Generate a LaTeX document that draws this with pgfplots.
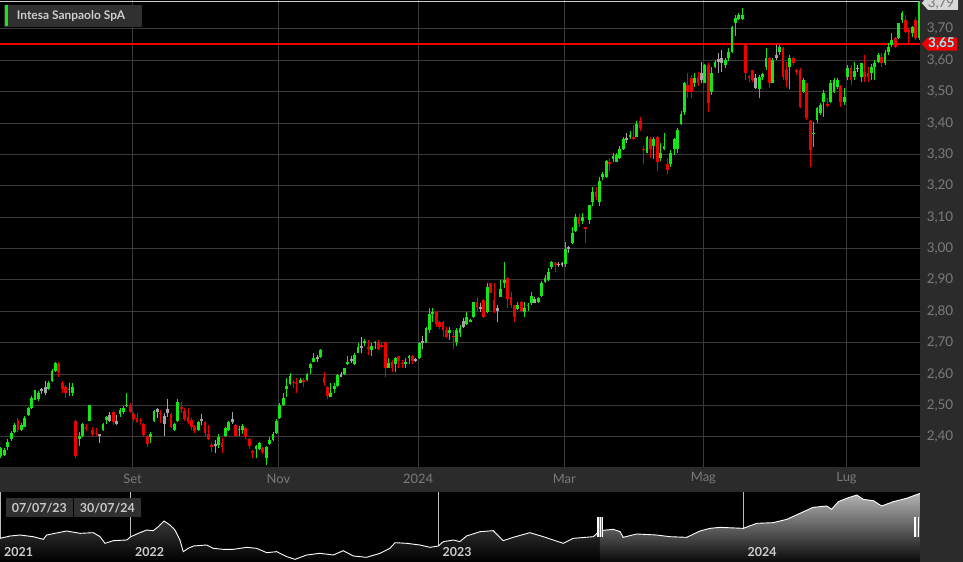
\documentclass[border=0pt]{standalone}
\usepackage{fontspec}
\setmainfont{Lato}
\usepackage{pgfplots}
\usepackage{pgfplotstable}
\pgfplotsset{compat=1.18}
\definecolor{panel}{RGB}{43,43,43}
\definecolor{gridc}{RGB}{58,58,58}
\definecolor{tickc}{RGB}{122,122,122}
\definecolor{cgreen}{RGB}{20,232,20}
\definecolor{cred}{RGB}{238,0,0}
\definecolor{cgray}{RGB}{165,165,165}
\definecolor{legbg}{RGB}{48,48,48}
\definecolor{legtext}{RGB}{205,205,205}
\definecolor{lblcyan}{RGB}{140,245,255}
\definecolor{lastline}{RGB}{205,205,205}
\definecolor{navgrid}{RGB}{190,190,190}
\definecolor{navfillA}{RGB}{55,55,55}
\definecolor{navfillB}{RGB}{180,180,180}
\definecolor{navfillBb}{RGB}{10,10,10}
\definecolor{navtext}{RGB}{205,205,205}
\definecolor{datebg}{RGB}{48,48,48}
\definecolor{datetext}{RGB}{200,200,200}
\definecolor{handleline}{RGB}{120,120,120}
\definecolor{lastbg}{RGB}{215,215,215}
\definecolor{lasttext}{RGB}{120,120,120}

% x = trading day index (0 = 07/07/23), open high low close, k: 1 up, -1 down, 0 unchanged
\pgfplotstableread{
x o h l c k
0 2.339 2.368 2.332 2.363 1
1 2.342 2.365 2.338 2.358 1
2 2.369 2.392 2.358 2.385 1
3 2.392 2.418 2.388 2.411 1
4 2.417 2.445 2.412 2.438 1
5 2.454 2.459 2.417 2.422 -1
6 2.422 2.445 2.418 2.438 1
7 2.433 2.466 2.430 2.459 1
8 2.470 2.495 2.466 2.491 1
9 2.491 2.530 2.488 2.523 1
10 2.523 2.549 2.518 2.530 1
11 2.520 2.545 2.515 2.539 1
12 2.545 2.555 2.538 2.551 0
13 2.539 2.579 2.533 2.560 0
14 2.552 2.578 2.548 2.573 1
15 2.579 2.615 2.575 2.610 1
16 2.611 2.640 2.608 2.634 1
17 2.632 2.640 2.592 2.608 -1
18 2.573 2.579 2.539 2.552 -1
19 2.560 2.565 2.523 2.539 -1
20 2.550 2.571 2.530 2.553 1
21 2.539 2.571 2.530 2.560 1
22 2.451 2.455 2.332 2.339 -1
23 2.392 2.417 2.371 2.403 1
24 2.403 2.445 2.398 2.440 1
25 2.431 2.440 2.420 2.428 -1
26 2.451 2.503 2.449 2.501 1
27 2.422 2.433 2.403 2.409 -1
28 2.413 2.427 2.403 2.410 -1
29 2.409 2.410 2.379 2.403 0
30 2.422 2.444 2.418 2.440 1
31 2.454 2.467 2.441 2.462 1
32 2.452 2.480 2.448 2.470 0
33 2.480 2.484 2.438 2.448 -1
34 2.452 2.470 2.438 2.441 0
35 2.473 2.491 2.462 2.486 1
36 2.479 2.498 2.473 2.491 1
37 2.498 2.539 2.496 2.502 1
38 2.498 2.507 2.475 2.480 -1
39 2.472 2.478 2.452 2.456 -1
40 2.459 2.475 2.444 2.448 -1
41 2.455 2.461 2.438 2.452 -1
42 2.440 2.443 2.401 2.405 -1
43 2.403 2.406 2.369 2.377 -1
44 2.401 2.417 2.379 2.410 1
45 2.451 2.486 2.448 2.482 1
46 2.478 2.491 2.460 2.489 0
47 2.477 2.486 2.445 2.474 -1
48 2.466 2.475 2.403 2.440 0
49 2.475 2.520 2.462 2.490 0
50 2.472 2.476 2.427 2.430 -1
51 2.422 2.444 2.418 2.440 1
52 2.452 2.520 2.448 2.512 1
53 2.496 2.512 2.475 2.488 -1
54 2.482 2.492 2.452 2.458 -1
55 2.462 2.491 2.440 2.448 -1
56 2.454 2.459 2.422 2.432 -1
57 2.432 2.438 2.411 2.420 -1
58 2.422 2.452 2.419 2.448 1
59 2.451 2.472 2.438 2.457 0
60 2.448 2.451 2.403 2.411 -1
61 2.409 2.438 2.390 2.392 -1
62 2.374 2.379 2.351 2.369 -1
63 2.375 2.390 2.350 2.373 0
64 2.374 2.408 2.363 2.401 1
65 2.379 2.395 2.350 2.369 -1
66 2.403 2.430 2.400 2.427 1
67 2.422 2.452 2.418 2.448 1
68 2.448 2.480 2.441 2.456 0
69 2.438 2.441 2.401 2.403 -1
70 2.422 2.435 2.403 2.425 1
71 2.422 2.440 2.409 2.435 1
72 2.429 2.432 2.392 2.401 -1
73 2.392 2.398 2.361 2.371 -1
74 2.354 2.358 2.332 2.352 -1
75 2.360 2.374 2.332 2.370 1
76 2.362 2.384 2.358 2.379 1
77 2.363 2.369 2.345 2.353 -1
78 2.332 2.371 2.310 2.369 1
79 2.377 2.401 2.374 2.390 1
80 2.390 2.414 2.386 2.410 1
81 2.411 2.456 2.409 2.451 1
82 2.459 2.509 2.456 2.502 1
83 2.502 2.539 2.498 2.523 1
84 2.552 2.589 2.528 2.562 1
85 2.569 2.605 2.565 2.595 1
86 2.576 2.581 2.555 2.571 -1
87 2.572 2.587 2.539 2.569 -1
88 2.573 2.589 2.571 2.581 1
89 2.581 2.587 2.560 2.576 -1
90 2.581 2.603 2.578 2.599 1
91 2.618 2.634 2.600 2.631 1
92 2.640 2.668 2.638 2.650 1
93 2.647 2.661 2.640 2.654 0
94 2.656 2.679 2.650 2.677 1
95 2.590 2.608 2.562 2.571 -1
96 2.560 2.562 2.520 2.530 -1
97 2.528 2.571 2.526 2.539 1
98 2.552 2.571 2.539 2.562 1
99 2.562 2.600 2.560 2.597 1
100 2.592 2.608 2.590 2.600 0
101 2.600 2.620 2.598 2.618 1
102 2.632 2.658 2.629 2.640 1
103 2.642 2.658 2.634 2.648 0
104 2.631 2.668 2.629 2.661 1
105 2.668 2.698 2.666 2.688 1
106 2.686 2.719 2.668 2.689 0
107 2.702 2.711 2.690 2.705 1
108 2.688 2.709 2.661 2.680 -1
109 2.677 2.698 2.658 2.690 1
110 2.700 2.705 2.680 2.703 1
111 2.701 2.709 2.677 2.679 -1
112 2.692 2.698 2.682 2.690 -1
113 2.701 2.703 2.590 2.618 -1
114 2.621 2.650 2.618 2.634 1
115 2.640 2.645 2.608 2.618 -1
116 2.631 2.656 2.608 2.650 1
117 2.659 2.659 2.618 2.642 -1
118 2.636 2.645 2.618 2.634 -1
119 2.634 2.650 2.618 2.640 1
120 2.650 2.661 2.632 2.659 1
121 2.659 2.660 2.632 2.642 -1
122 2.644 2.650 2.640 2.646 0
123 2.650 2.702 2.648 2.700 1
124 2.700 2.721 2.679 2.705 0
125 2.700 2.751 2.698 2.748 1
126 2.741 2.810 2.730 2.791 1
127 2.791 2.810 2.767 2.799 1
128 2.799 2.802 2.751 2.759 -1
129 2.767 2.770 2.745 2.751 -1
130 2.767 2.769 2.719 2.741 -1
131 2.741 2.749 2.716 2.719 -1
132 2.730 2.749 2.709 2.741 1
133 2.722 2.741 2.680 2.719 -1
134 2.703 2.746 2.690 2.741 1
135 2.730 2.757 2.719 2.746 1
136 2.749 2.778 2.746 2.769 0
137 2.760 2.799 2.757 2.781 1
138 2.769 2.776 2.766 2.772 1
139 2.781 2.831 2.779 2.829 1
140 2.829 2.847 2.802 2.810 -1
141 2.811 2.828 2.799 2.813 0
142 2.836 2.838 2.779 2.781 -1
143 2.799 2.891 2.796 2.879 1
144 2.889 2.891 2.857 2.860 -1
145 2.836 2.891 2.794 2.801 -1
146 2.801 2.820 2.767 2.812 0
147 2.847 2.900 2.845 2.870 1
148 2.889 2.958 2.873 2.900 1
149 2.907 2.908 2.810 2.838 -1
150 2.847 2.863 2.810 2.820 -1
151 2.820 2.821 2.767 2.781 -1
152 2.808 2.831 2.804 2.820 1
153 2.829 2.832 2.799 2.801 -1
154 2.799 2.831 2.781 2.810 1
155 2.818 2.828 2.802 2.821 1
156 2.828 2.863 2.820 2.849 1
157 2.828 2.847 2.827 2.838 0
158 2.829 2.847 2.826 2.842 1
159 2.849 2.898 2.845 2.889 1
160 2.895 2.916 2.891 2.907 1
161 2.900 2.937 2.898 2.927 1
162 2.940 2.962 2.936 2.958 1
163 2.952 2.958 2.927 2.950 -1
164 2.950 2.958 2.942 2.951 0
165 2.951 2.958 2.940 2.951 0
166 2.951 3.022 2.942 2.998 1
167 2.998 3.008 2.987 3.006 0
168 3.019 3.068 3.015 3.049 1
169 3.057 3.110 3.054 3.100 1
170 3.100 3.110 3.068 3.078 -1
171 3.089 3.112 3.078 3.100 1
172 3.068 3.069 3.019 3.066 -1
173 3.091 3.140 3.078 3.139 1
174 3.147 3.197 3.137 3.179 1
175 3.179 3.197 3.155 3.166 -1
176 3.147 3.229 3.137 3.217 1
177 3.227 3.245 3.219 3.237 1
178 3.227 3.281 3.225 3.279 1
179 3.277 3.288 3.248 3.270 -1
180 3.286 3.304 3.277 3.296 1
181 3.277 3.306 3.275 3.298 1
182 3.288 3.327 3.286 3.316 1
183 3.316 3.355 3.314 3.348 1
184 3.348 3.367 3.338 3.353 0
185 3.357 3.376 3.348 3.362 1
186 3.357 3.394 3.347 3.348 -1
187 3.357 3.408 3.355 3.396 1
188 3.408 3.419 3.376 3.386 -1
189 3.317 3.327 3.270 3.316 -1
190 3.306 3.358 3.305 3.357 1
191 3.348 3.357 3.288 3.316 -1
192 3.327 3.357 3.285 3.348 1
193 3.357 3.359 3.248 3.277 -1
194 3.288 3.338 3.280 3.306 1
195 3.316 3.367 3.314 3.327 1
196 3.270 3.288 3.238 3.251 -1
197 3.270 3.314 3.259 3.306 1
198 3.316 3.351 3.298 3.348 1
199 3.316 3.383 3.306 3.378 1
200 3.396 3.439 3.394 3.429 1
201 3.436 3.532 3.426 3.527 1
202 3.521 3.559 3.479 3.500 -1
203 3.543 3.553 3.479 3.500 -1
204 3.527 3.561 3.514 3.543 1
205 3.548 3.564 3.518 3.527 -1
206 3.537 3.596 3.529 3.559 0
207 3.529 3.588 3.527 3.585 1
208 3.585 3.593 3.436 3.463 -1
209 3.500 3.580 3.490 3.561 1
210 3.580 3.601 3.575 3.596 1
211 3.596 3.625 3.561 3.603 0
212 3.591 3.633 3.564 3.606 0
213 3.585 3.606 3.575 3.601 1
214 3.606 3.638 3.599 3.628 1
215 3.628 3.710 3.625 3.707 1
216 3.718 3.745 3.678 3.734 1
217 3.731 3.750 3.729 3.745 1
218 3.731 3.766 3.729 3.745 1
219 3.649 3.656 3.537 3.559 -1
220 3.549 3.553 3.532 3.547 -1
221 3.569 3.570 3.532 3.537 -1
222 3.511 3.557 3.508 3.543 0
223 3.508 3.553 3.479 3.546 1
224 3.548 3.561 3.537 3.557 1
225 3.580 3.638 3.569 3.606 1
226 3.606 3.612 3.511 3.527 -1
227 3.529 3.606 3.527 3.601 1
228 3.606 3.649 3.601 3.617 0
229 3.628 3.649 3.617 3.644 1
230 3.638 3.644 3.537 3.546 -1
231 3.569 3.596 3.514 3.537 -1
232 3.580 3.617 3.508 3.606 1
233 3.606 3.610 3.585 3.591 -1
234 3.569 3.571 3.553 3.564 -1
235 3.569 3.575 3.447 3.452 -1
236 3.500 3.543 3.495 3.537 1
237 3.527 3.529 3.410 3.415 -1
238 3.408 3.410 3.261 3.314 -1
239 3.365 3.405 3.325 3.370 1
240 3.410 3.452 3.399 3.447 1
241 3.431 3.465 3.426 3.458 1
242 3.468 3.506 3.421 3.497 1
243 3.459 3.479 3.452 3.457 -1
244 3.468 3.537 3.463 3.527 1
245 3.500 3.543 3.495 3.537 1
246 3.516 3.543 3.508 3.537 1
247 3.518 3.521 3.452 3.468 -1
248 3.468 3.511 3.458 3.484 1
249 3.548 3.585 3.537 3.575 1
250 3.575 3.585 3.521 3.537 -1
251 3.548 3.596 3.537 3.567 1
252 3.574 3.585 3.564 3.576 0
253 3.548 3.593 3.532 3.591 1
254 3.564 3.617 3.532 3.548 -1
255 3.559 3.580 3.532 3.548 -1
256 3.561 3.588 3.537 3.580 1
257 3.580 3.601 3.537 3.591 1
258 3.596 3.622 3.591 3.617 1
259 3.612 3.622 3.580 3.591 -1
260 3.591 3.633 3.585 3.622 1
261 3.628 3.654 3.617 3.644 1
262 3.649 3.688 3.644 3.665 1
263 3.670 3.676 3.638 3.644 -1
264 3.670 3.720 3.668 3.718 1
265 3.729 3.758 3.718 3.750 1
266 3.729 3.745 3.686 3.691 -1
267 3.697 3.702 3.654 3.691 -1
268 3.686 3.710 3.676 3.707 1
269 3.729 3.737 3.665 3.670 -1
270 3.670 3.790 3.665 3.787 1
}\candles

% navigator: year, price (not selected part)
\pgfplotstableread{
t v
2021.580 2.038
2021.613 2.131
2021.645 2.170
2021.688 2.104
2021.721 1.999
2021.732 2.170
2021.797 2.328
2021.841 2.236
2021.884 2.262
2021.906 2.104
2021.922 1.841
2021.949 1.946
2021.993 1.973
2022.006 2.104
2022.036 2.262
2022.058 2.368
2022.079 2.341
2022.096 2.499
2022.114 2.723
2022.134 2.565
2022.150 2.368
2022.166 1.973
2022.177 1.512
2022.193 1.643
2022.210 1.736
2022.253 1.775
2022.275 1.643
2022.307 1.604
2022.340 1.604
2022.384 1.683
2022.416 1.643
2022.449 1.472
2022.481 1.512
2022.514 1.314
2022.541 1.209
2022.579 1.380
2022.622 1.446
2022.666 1.380
2022.698 1.551
2022.731 1.341
2022.774 1.289
2022.818 1.446
2022.850 1.643
2022.867 1.867
2022.905 1.841
2022.948 1.775
2022.981 1.683
2023.008 1.736
2023.024 1.907
2023.057 1.973
2023.078 1.907
2023.100 2.131
2023.144 2.302
2023.187 2.341
2023.219 1.946
2023.252 2.078
2023.306 2.262
2023.350 2.104
2023.415 1.841
2023.447 2.038
2023.513 2.104
2023.534 2.341
}\navA

% navigator: selected part
\pgfplotstableread{
t v
2023.534 2.341
2023.578 2.394
2023.600 2.302
2023.610 2.078
2023.654 2.210
2023.719 2.170
2023.762 2.104
2023.817 2.078
2023.860 2.328
2023.893 2.433
2023.925 2.473
2024.001 2.433
2024.045 2.631
2024.099 2.657
2024.143 2.789
2024.186 3.026
2024.229 3.263
2024.273 3.316
2024.289 3.184
2024.311 3.487
2024.338 3.619
2024.371 3.750
2024.392 3.579
2024.425 3.526
2024.452 3.316
2024.490 3.487
2024.533 3.619
2024.577 3.816
}\navB

\pgfplotsset{
  wick/.style={draw=none, mark=none, forget plot,
    error bars/.cd, y dir=both, y explicit, error mark=none,
    error bar style={line width=1bp, draw=#1}},
  body/.style={draw=none, mark=none, forget plot,
    error bars/.cd, y dir=both, y explicit, error mark=none,
    error bar style={line width=2.7bp, draw=#1}},
}

\begin{document}
\begin{tikzpicture}[x=1bp,y=1bp]
\fill[panel] (0,0) rectangle (963,562);

\begin{axis}[
  at={(0bp,95bp)}, anchor=south west, scale only axis,
  width=920bp, height=467bp,
  xmin=-0.294, xmax=270.3, ymin=2.304, ymax=3.7924,
  axis background/.style={fill=black},
  axis line style={draw=none},
  major tick length=0pt,
  xtick={38.7,81.6,122.7,165.7,206.6,248.7},
  xticklabels={Set,Nov,2024,Mar,Mag,Lug},
  ytick={2.4,2.5,2.6,2.7,2.8,2.9,3.0,3.1,3.2,3.3,3.4,3.5,3.6,3.7},
  yticklabel pos=right,
  grid=major,
  grid style={gridc, line width=1bp},
  tick label style={text=tickc, font=\fontsize{13.5}{15}\selectfont},
  xticklabel style={anchor=center, yshift=-11.5bp, font=\fontsize{13}{15}\selectfont},
  yticklabel style={anchor=center, xshift=20bp,
    /pgf/number format/.cd, fixed, fixed zerofill, precision=2, use comma, assume math mode=true},
  clip=true,
]
\addplot[cred, line width=1.3bp, forget plot] coordinates {(-1,3.652) (272,3.652)};
\addplot[lastline, line width=1bp, forget plot] coordinates {(-1,3.786) (272,3.786)};

\addplot[wick=cgreen] table[x=x, y expr={\thisrow{k}==1 ? (\thisrow{h}+\thisrow{l})/2 : nan}, y error expr={(\thisrow{h}-\thisrow{l})/2}] {\candles};
\addplot[wick=cred] table[x=x, y expr={\thisrow{k}==-1 ? (\thisrow{h}+\thisrow{l})/2 : nan}, y error expr={(\thisrow{h}-\thisrow{l})/2}] {\candles};
\addplot[wick=cgray] table[x=x, y expr={\thisrow{k}==0 ? (\thisrow{h}+\thisrow{l})/2 : nan}, y error expr={(\thisrow{h}-\thisrow{l})/2}] {\candles};

\addplot[body=cgreen] table[x=x, y expr={\thisrow{k}==1 ? (\thisrow{o}+\thisrow{c})/2 : nan}, y error expr={max(abs(\thisrow{c}-\thisrow{o})/2,0.0017)}] {\candles};
\addplot[body=cred] table[x=x, y expr={\thisrow{k}==-1 ? (\thisrow{o}+\thisrow{c})/2 : nan}, y error expr={max(abs(\thisrow{c}-\thisrow{o})/2,0.0017)}] {\candles};
\addplot[body=cgray] table[x=x, y expr={\thisrow{k}==0 ? (\thisrow{o}+\thisrow{c})/2 : nan}, y error expr={max(abs(\thisrow{c}-\thisrow{o})/2,0.0017)}] {\candles};
\end{axis}

% navigator
\begin{axis}[
  at={(0bp,0bp)}, anchor=south west, scale only axis,
  width=920bp, height=70bp,
  xmin=2021.58, xmax=2024.577, ymin=1.104, ymax=3.869,
  axis background/.style={fill=black},
  axis line style={draw=none},
  major tick length=0pt,
  xtick={2021.583,2022.004,2023.008,2024.001},
  xticklabels={},
  ytick=\empty,
  xmajorgrids,
  grid style={navgrid, line width=0.9bp},
  clip=true,
]
\addplot[draw=none, top color=navfillA, bottom color=black, forget plot] table[x=t, y=v] {\navA} \closedcycle;
\addplot[draw=none, top color=navfillB, bottom color=navfillBb, forget plot] table[x=t, y=v] {\navB} \closedcycle;
\addplot[white, line width=0.9bp, forget plot] table[x=t, y=v] {\navA};
\addplot[white, line width=0.9bp, forget plot] table[x=t, y=v] {\navB};
\end{axis}

% navigator decorations
\foreach \xx/\yy in {4/2021,135/2022,442.5/2023,747.5/2024}
  \node[anchor=base west, inner sep=0pt, text=navtext,
        font=\bfseries\fontsize{12.5}{14}\selectfont] at (\xx,5) {\yy};
\fill[datebg] (6,44.5) rectangle (72.7,63.7);
\fill[datebg] (74,44.5) rectangle (140.7,63.7);
\node[text=datetext, font=\bfseries\fontsize{12.5}{14}\selectfont, inner sep=0pt] at (39.3,54.1) {07/07/23};
\node[text=datetext, font=\bfseries\fontsize{12.5}{14}\selectfont, inner sep=0pt] at (107.3,54.1) {30/07/24};
\fill[white] (597.3,25) rectangle (602.7,45);
\draw[handleline, line width=0.5bp] (599.1,25) -- (599.1,45) (600.9,25) -- (600.9,45);
\fill[white] (914,25) rectangle (919.4,45);
\draw[handleline, line width=0.5bp] (915.8,25) -- (915.8,45) (917.6,25) -- (917.6,45);

% legend box
\fill[legbg] (4,535) rectangle (142,557);
\fill[cgreen] (5,535.5) rectangle (7.8,556.5);
\node[anchor=west, inner sep=0pt, text=legtext, font=\bfseries\fontsize{12}{14}\selectfont] at (16.7,546) {Intesa Sanpaolo SpA};

% price labels on the right
\fill[cred] (921.7,518) -- (928,524.7) -- (957,524.7) -- (957,511.3) -- (928,511.3) -- cycle;
\node[text=lblcyan, font=\bfseries\fontsize{13.5}{15}\selectfont, inner sep=0pt] at (941.5,518) {3,65};
\fill[lastbg] (921.7,559) -- (928,566) -- (958,566) -- (958,552) -- (928,552) -- cycle;
\node[anchor=base, text=lasttext, font=\fontsize{13.5}{15}\selectfont, inner sep=0pt] at (941,554.5) {3,79};

\pgfresetboundingbox
\useasboundingbox (0,0) rectangle (963,562);
\end{tikzpicture}
\end{document}
